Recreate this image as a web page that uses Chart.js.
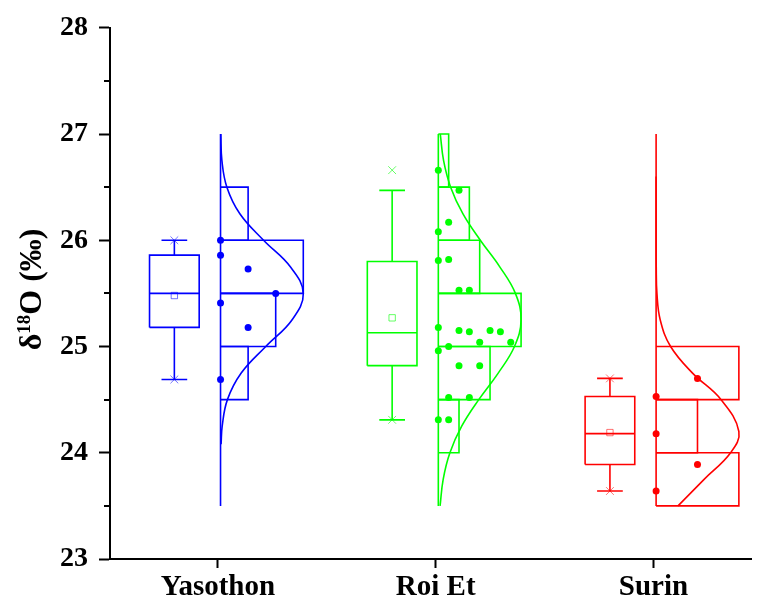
<!DOCTYPE html>
<html>
<head>
<meta charset="utf-8">
<script src="https://cdn.jsdelivr.net/npm/chart.js@4"></script>
<style>
  body { margin: 0; background: #fff; }
  #wrap { width: 758px; height: 601px; }
</style>
</head>
<body>
<div id="wrap"><canvas id="chart" width="758" height="601"></canvas></div>
<script>
// Sites on the x axis
const categories = ['Yasothon', 'Roi Et', 'Surin'];
const yTicks = [23, 24, 25, 26, 27, 28];

// δ18O values per site, in the order they are stacked inside each bin
const yasothon = [26.00, 25.86, 25.73, 25.50, 25.41, 25.18, 24.69];
const roiEt = [26.66, 26.08, 26.17, 26.47, 25.81, 25.82, 25.53, 25.53,
               25.18, 25.00, 25.15, 25.14, 25.04, 25.15, 25.14, 25.04,
               24.96, 24.52, 24.82, 24.52, 24.82, 24.31, 24.31];
const surin = [24.53, 24.70, 24.18, 23.64, 23.89];

// Box statistics
const boxLow = [24.69, 24.31, 23.64];
const boxQ1 = [25.18, 24.82, 23.89];
const boxMedian = [25.50, 25.13, 24.18];
const boxQ3 = [25.86, 25.80, 24.53];
const boxHigh = [26.00, 26.47, 24.70];
const boxMean = [25.48, 25.27, 24.19];
const dataMin = [24.69, 24.31, 23.64];
const dataMax = [26.00, 26.66, 24.70];

// Histogram bin edges
const binEdges = [23.5, 24.0, 24.5, 25.0, 25.5, 26.0, 26.5, 27.0];

// Normal curves (value, height in counts)
const yasothonCurveY = [24.08, 24.25, 24.5, 24.75, 25.0, 25.25, 25.5, 25.75, 26.0, 26.25, 26.5, 26.75, 27.0];
const yasothonCurveN = [0.02, 0.06, 0.25, 0.75, 1.64, 2.59, 3.00, 2.53, 1.56, 0.70, 0.23, 0.05, 0.01];
const roiEtCurveY = [23.5, 23.75, 24.0, 24.25, 24.5, 24.75, 25.0, 25.25, 25.5, 25.75, 26.0, 26.25, 26.5, 26.75, 27.0];
const roiEtCurveN = [0.17, 0.47, 1.12, 2.26, 3.91, 5.79, 7.36, 8.00, 7.45, 5.94, 4.06, 2.37, 1.19, 0.51, 0.19];
const surinCurveY = [23.5, 23.75, 24.0, 24.2, 24.5, 24.75, 25.0, 25.25, 25.5, 25.75, 26.0, 26.3, 26.6];
const surinCurveN = [0.53, 1.16, 1.80, 2.00, 1.57, 0.88, 0.35, 0.10, 0.02, 0.003, 0, 0, 0];

const colors = ['#0000FF', '#00FF00', '#FF0000'];
const faded = ['rgba(0,0,255,0.55)', 'rgba(0,255,0,0.6)', 'rgba(255,0,0,0.55)'];

// layout in x-axis units (1 unit = distance between sites)
const BOX_OFFSET = -0.2, BOX_HALF = 0.114, CAP_HALF = 0.059;
const HIST_OFFSET = 0.012, HIST_WIDTH = 0.38;

const groups = [yasothon, roiEt, surin];
const curvesY = [yasothonCurveY, roiEtCurveY, surinCurveY];
const curvesN = [yasothonCurveN, roiEtCurveN, surinCurveN];

const datasets = [];
function line(points, color, tension) {
    datasets.push({
        data: points, showLine: true, borderColor: color, borderWidth: 1.6,
        pointRadius: 0, pointHoverRadius: 0, tension: tension || 0, fill: false
    });
}

groups.forEach((vals, i) => {
    const c = colors[i];
    const bx = i + 1 + BOX_OFFSET;
    const L = bx - BOX_HALF, R = bx + BOX_HALF;

    // box, median, whiskers, caps
    line([{x: L, y: boxQ1[i]}, {x: R, y: boxQ1[i]}, {x: R, y: boxQ3[i]}, {x: L, y: boxQ3[i]}, {x: L, y: boxQ1[i]}], c);
    line([{x: L, y: boxMedian[i]}, {x: R, y: boxMedian[i]}], c);
    line([{x: bx, y: boxQ3[i]}, {x: bx, y: boxHigh[i]}], c);
    line([{x: bx, y: boxQ1[i]}, {x: bx, y: boxLow[i]}], c);
    line([{x: bx - CAP_HALF, y: boxHigh[i]}, {x: bx + CAP_HALF, y: boxHigh[i]}], c);
    line([{x: bx - CAP_HALF, y: boxLow[i]}, {x: bx + CAP_HALF, y: boxLow[i]}], c);

    // mean square and min/max crosses
    datasets.push({
        data: [{x: bx, y: boxMean[i]}], pointStyle: 'rect', pointRadius: 4.5,
        borderColor: faded[i], backgroundColor: 'rgba(0,0,0,0)', borderWidth: 1
    });
    datasets.push({
        data: [{x: bx, y: dataMin[i]}, {x: bx, y: dataMax[i]}], pointStyle: 'crossRot', pointRadius: 5.5,
        borderColor: faded[i], borderWidth: 1
    });

    // histogram counts and stacking slot of each point
    const counts = binEdges.slice(0, -1).map(() => 0);
    const slots = vals.map(v => {
        const b = binEdges.findIndex((e, k) => k < binEdges.length - 1 && v >= e - 1e-9 && v < binEdges[k + 1] - 1e-9);
        return counts[b]++;
    });
    const unit = HIST_WIDTH / Math.max(...counts);
    const hx = i + 1 + HIST_OFFSET;

    counts.forEach((n, b) => {
        if (!n) return;
        const lo = binEdges[b], hi = binEdges[b + 1], w = hx + n * unit;
        line([{x: hx, y: lo}, {x: w, y: lo}, {x: w, y: hi}, {x: hx, y: hi}], c);
    });
    line([{x: hx, y: binEdges[0]}, {x: hx, y: binEdges[binEdges.length - 1]}], c);

    // normal curve
    line(curvesY[i].map((y, k) => ({x: hx + curvesN[i][k] * unit, y: y})), c, 0.4);

    // data points
    datasets.unshift({
        data: vals.map((v, k) => ({x: hx + slots[k] * unit, y: v})),
        pointStyle: 'circle', pointRadius: 3.5, backgroundColor: c, borderWidth: 0
    });
});

const serif = '"Liberation Serif", "Times New Roman", serif';

// y title with superscript, and the minor y ticks
const extras = {
    id: 'extras',
    afterDraw(chart) {
        const ctx = chart.ctx, a = chart.chartArea, ys = chart.scales.y;
        ctx.save();
        ctx.strokeStyle = '#000';
        ctx.lineWidth = 2;
        for (let v = 23.5; v < 28; v += 1) {
            const py = Math.round(ys.getPixelForValue(v));
            ctx.beginPath();
            ctx.moveTo(a.left - 6, py);
            ctx.lineTo(a.left, py);
            ctx.stroke();
        }
        ctx.restore();

        ctx.save();
        ctx.translate(30, (a.top + a.bottom) / 2 - 4);
        ctx.rotate(-Math.PI / 2);
        ctx.fillStyle = '#000';
        ctx.textBaseline = 'alphabetic';
        const big = 'bold 32px ' + serif, small = 'bold 19px ' + serif;
        const parts = [['δ', big, 0], ['18', small, -11], ['O (‰)', big, 0]];
        let total = 0;
        parts.forEach(p => { ctx.font = p[1]; total += ctx.measureText(p[0]).width; });
        let x = -total / 2;
        parts.forEach(p => {
            ctx.font = p[1];
            ctx.fillText(p[0], x, 11 + p[2]);
            x += ctx.measureText(p[0]).width;
        });
        ctx.restore();
    }
};

new Chart(document.getElementById('chart'), {
    type: 'scatter',
    data: { datasets: datasets },
    options: {
        responsive: false,
        animation: false,
        layout: { padding: { top: 25, left: 0, right: 0, bottom: 0 } },
        plugins: { legend: { display: false }, tooltip: { enabled: false } },
        scales: {
            x: {
                type: 'linear', min: 0.5045, max: 3.45,
                afterBuildTicks: s => { s.ticks = categories.map((c, i) => ({ value: i + 1 })); },
                afterFit: s => { s.height = 42; },
                grid: { drawOnChartArea: false, tickLength: 9, tickColor: '#000', tickWidth: 2 },
                border: { color: '#000', width: 2 },
                ticks: {
                    callback: v => categories[v - 1], color: '#000', padding: 2,
                    maxRotation: 0, autoSkip: false,
                    font: { family: serif, size: 29, weight: 'bold' }
                }
            },
            y: {
                min: 23, max: 28,
                afterBuildTicks: s => { s.ticks = yTicks.map(v => ({ value: v })); },
                afterFit: s => { s.width = 110; },
                grid: { drawOnChartArea: false, tickLength: 11, tickColor: '#000', tickWidth: 2 },
                border: { color: '#000', width: 2 },
                ticks: {
                    color: '#000', padding: 11,
                    font: { family: serif, size: 28, weight: 'bold' }
                }
            }
        }
    },
    plugins: [extras]
});
</script>
</body>
</html>
